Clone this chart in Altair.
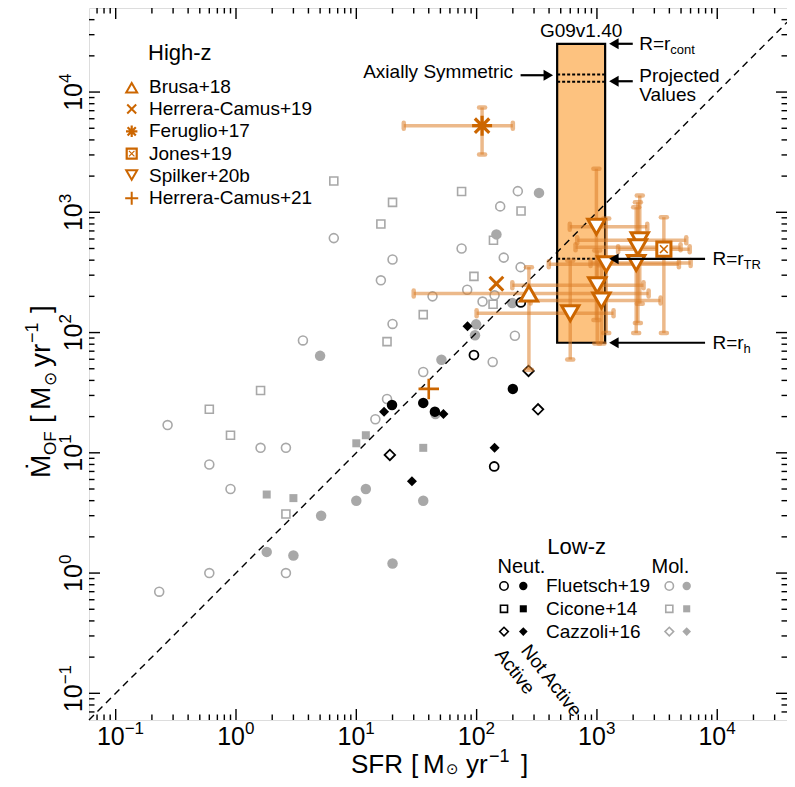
import altair as alt
import pandas as pd

FONT = "Liberation Sans"
SYMFONT = "DejaVu Sans"
W, H = 698, 712
XMIN, XMAX = 0.06, 38000.0
YMIN, YMAX = 0.06, 50000.0
PXDEC_X = W / 5.8017  # pixels per decade (x)
OX, OY = 89, 8        # page position of the plot's top-left corner

GRAY = "#a8a8a8"
ORANGE = "#cc6600"
EBAR = "#dc7f2a"
BOXFILL = "#fdc27f"

# ---------------- Low-z samples (SFR, Mdot_OF) ----------------
flu_mol_act_sfr = [220, 157, 75, 168, 232, 6.5, 20, 16, 83.5, 43, 112, 141, 20, 3.6, 208, 136, 36, 18, 14.4, 0.27, 1.6, 2.6, 0.6, 0.9, 0.6, 2.6, 0.23]
flu_mol_act_mof = [1500, 1120, 500, 420, 350, 610, 405, 272, 227, 200, 181, 204, 118, 86, 94, 57, 47, 28, 19, 17, 11, 11, 8.0, 5.0, 1.0, 1.0, 0.70]
flu_mol_nact_sfr = [330, 146, 198, 99, 97, 51, 5.0, 45.5, 5.1, 10, 12, 36, 1.8, 3.0, 20]
flu_mol_nact_mof = [1450, 655, 176, 117, 95, 59.5, 64, 21, 3.0, 4.0, 5.0, 4.0, 1.5, 1.4, 1.2]
cic_mol_act_sfr = [6.5, 20, 16, 75, 234, 138, 95, 36, 18, 137, 1.6, 0.6, 0.9, 2.6]
cic_mol_act_mof = [1820, 1210, 800, 1490, 1025, 585, 293, 141, 84, 172, 33, 23, 14, 3.1]
cic_mol_nact_sfr = [1.8, 3.0, 10, 12, 36]
cic_mol_nact_mof = [4.5, 4.2, 12, 14, 11]
flu_neu_act_sfr = [233, 95, 140]
flu_neu_act_mof = [178, 65, 7.7]
flu_neu_nact_sfr = [19.8, 36, 45, 200]
flu_neu_nact_mof = [25, 26, 22, 34]
caz_neu_act_sfr = [19, 270, 324]
caz_neu_act_mof = [9.6, 48, 23]
caz_neu_nact_sfr = [17, 53, 29, 141, 84]
caz_neu_nact_mof = [22, 21, 5.8, 11, 113]

# ---------------- High-z samples ----------------
brusa_sfr, brusa_mof = [272], [211]
brusa_xlo, brusa_xhi, brusa_ylo, brusa_yhi = [30], [2690], [49], [350]
hc19_sfr, hc19_mof = [146], [255]
feru_sfr, feru_mof = [111], [5250]
feru_xlo, feru_xhi, feru_ylo, feru_yhi = [24.8], [200], [3020], [7450]
jones_sfr, jones_mof = [3600], [494]
jones_xlo, jones_xhi, jones_ylo, jones_yhi = [1500], [5900], [99], [910]
spk_sfr = [990, 2270, 2190, 1195, 2120, 1006, 1090, 600]
spk_mof = [760, 585, 513, 369, 378, 247, 185, 145]
spk_xlo = [595, 686, 664, 398, 885, 198, 281, 100]
spk_xhi = [2620, 5525, 4955, 4800, 6010, 2440, 3380, 1374]
spk_ylo = [127, 174, 120, 99, 99, 81, 81, 59.7]
spk_yhi = [2300, 1378, 1213, 889, 1103, 482, 362, 398]
hc21_sfr, hc21_mof = [40], [34]

# G09v1.40 box
box_sfr = [467, 1170]
box_mof = [82.3, 25200]
box_dotted_mof = [14000, 12200, 410]

# axis ticks
major_ticks = [0.1, 1, 10, 100, 1000, 10000]
major_exp = ["\u22121", "0", "1", "2", "3", "4"]

XPATH = "M-1,-1L1,1M-1,1L1,-1"
PLUS = "M-1,0L1,0M0,-1L0,1"
AST = "M-1,0L1,0M0,-1L0,1M-0.72,-0.72L0.72,0.72M-0.72,0.72L0.72,-0.72"


def X(f="sfr"):
    return alt.X(f"{f}:Q", scale=alt.Scale(type="log", domain=[XMIN, XMAX], nice=False, zero=False), axis=None)


def Y(f="mof"):
    return alt.Y(f"{f}:Q", scale=alt.Scale(type="log", domain=[YMIN, YMAX], nice=False, zero=False), axis=None)


def pts(sfr, mof, shape, color, size, filled=False, sw=1.6, fill=None):
    df = pd.DataFrame({"sfr": sfr, "mof": mof})
    if fill is not None:
        m = alt.Chart(df).mark_point(shape=shape, filled=True, fill=fill, stroke=color,
                                     size=size, strokeWidth=sw, opacity=1)
    elif filled:
        m = alt.Chart(df).mark_point(shape=shape, filled=True, color=color, size=size,
                                     strokeWidth=0, opacity=1)
    else:
        m = alt.Chart(df).mark_point(shape=shape, filled=False, color=color, size=size,
                                     strokeWidth=sw, opacity=1)
    return m.encode(x=X(), y=Y())


def ebars(sfr, mof, xlo, xhi, ylo, yhi):
    df = pd.DataFrame({"sfr": sfr, "mof": mof, "xlo": xlo, "xhi": xhi, "ylo": ylo, "yhi": yhi})
    b = alt.Chart(df)
    st = dict(color=EBAR, opacity=0.55)
    out = [
        b.mark_rule(strokeWidth=3.5, **st).encode(x=X("xlo"), x2=alt.X2("xhi"), y=Y("mof")),
        b.mark_rule(strokeWidth=3.5, **st).encode(x=X("sfr"), y=Y("ylo"), y2=alt.Y2("yhi")),
    ]
    for fx, fy, ang in [("xlo", "mof", 90), ("xhi", "mof", 90), ("sfr", "ylo", 0), ("sfr", "yhi", 0)]:
        out.append(b.mark_point(shape="stroke", angle=ang, size=36, strokeWidth=4.5,
                                strokeCap="round", **st).encode(x=X(fx), y=Y(fy)))
    return out


def txt(text, x, y, size=19, align="left", baseline="alphabetic", angle=0, dx=0, dy=0, font=FONT):
    return alt.Chart(pd.DataFrame({"t": [text]})).mark_text(
        font=font, fontSize=size, align=align, baseline=baseline, angle=angle, dx=dx, dy=dy,
        color="black").encode(x=alt.value(x), y=alt.value(y), text="t:N")


def dtxt(text, sfr, mof, size=19, align="left", baseline="middle", dx=0, dy=0):
    df = pd.DataFrame({"t": [text], "sfr": [sfr], "mof": [mof]})
    return alt.Chart(df).mark_text(font=FONT, fontSize=size, align=align, baseline=baseline,
                                   dx=dx, dy=dy, color="black").encode(x=X(), y=Y(), text="t:N")


def vpt(x, y, shape, color, size, sw=1.6, filled=False, fill=None):
    c = alt.Chart(pd.DataFrame({"d": [0]}))
    if fill is not None:
        m = c.mark_point(shape=shape, filled=True, fill=fill, stroke=color, size=size, strokeWidth=sw, opacity=1)
    elif filled:
        m = c.mark_point(shape=shape, filled=True, color=color, size=size, strokeWidth=0, opacity=1)
    else:
        m = c.mark_point(shape=shape, filled=False, color=color, size=size, strokeWidth=sw, opacity=1)
    return m.encode(x=alt.value(x), y=alt.value(y))


layers = []

# ---- low-z points ----
layers += [
    pts(flu_mol_act_sfr, flu_mol_act_mof, "circle", GRAY, 80),
    pts(cic_mol_act_sfr, cic_mol_act_mof, "square", GRAY, 64),
    pts(flu_mol_nact_sfr, flu_mol_nact_mof, "circle", GRAY, 110, filled=True),
    pts(cic_mol_nact_sfr, cic_mol_nact_mof, "square", GRAY, 64, filled=True),
    pts(flu_neu_act_sfr, flu_neu_act_mof, "circle", "black", 80, sw=1.8),
    pts(flu_neu_nact_sfr, flu_neu_nact_mof, "circle", "black", 110, filled=True),
    pts(caz_neu_act_sfr, caz_neu_act_mof, "diamond", "black", 110, sw=1.8),
    pts(caz_neu_nact_sfr, caz_neu_nact_mof, "diamond", "black", 100, filled=True),
]

# ---- G09v1.40 box ----
box_df = pd.DataFrame({"x0": [box_sfr[0]], "x1": [box_sfr[1]], "y0": [box_mof[0]], "y1": [box_mof[1]]})
layers.append(alt.Chart(box_df).mark_rect(fill=BOXFILL, stroke="black", strokeWidth=2.2, opacity=1)
              .encode(x=X("x0"), x2=alt.X2("x1"), y=Y("y0"), y2=alt.Y2("y1")))
dot_df = pd.DataFrame({"x0": [box_sfr[0]] * 3, "x1": [box_sfr[1]] * 3, "mof": box_dotted_mof})
layers.append(alt.Chart(dot_df).mark_rule(color="black", strokeWidth=2, strokeDash=[3, 2])
              .encode(x=X("x0"), x2=alt.X2("x1"), y=Y("mof")))

# ---- 1:1 line ----
one_df = pd.DataFrame({"sfr": [XMIN, XMAX], "mof": [XMIN, XMAX]})
layers.append(alt.Chart(one_df).mark_line(color="black", strokeWidth=1.4, strokeDash=[7, 5])
              .encode(x=X(), y=Y()))

# ---- high-z error bars ----
layers += ebars(spk_sfr, spk_mof, spk_xlo, spk_xhi, spk_ylo, spk_yhi)
layers += ebars(brusa_sfr, brusa_mof, brusa_xlo, brusa_xhi, brusa_ylo, brusa_yhi)
layers += ebars(jones_sfr, jones_mof, jones_xlo, jones_xhi, jones_ylo, jones_yhi)
layers += ebars(feru_sfr, feru_mof, feru_xlo, feru_xhi, feru_ylo, feru_yhi)

# ---- high-z markers ----
layers += [
    pts(spk_sfr, spk_mof, "triangle-down", ORANGE, 300, sw=3, fill="white"),
    pts(brusa_sfr, brusa_mof, "triangle-up", ORANGE, 300, sw=3, fill="white"),
    pts(jones_sfr, jones_mof, "square", ORANGE, 200, sw=3, fill="white"),
    pts(jones_sfr, jones_mof, XPATH, ORANGE, 60, sw=1.6),
    pts(hc19_sfr, hc19_mof, XPATH, ORANGE, 190, sw=3),
    pts(feru_sfr, feru_mof, AST, ORANGE, 400, sw=3.2),
    pts(hc21_sfr, hc21_mof, PLUS, ORANGE, 420, sw=2.6),
]

# ---- annotations around the box ----
HEAD = 120
head_off = 10 ** ((3 ** 0.5) * (HEAD ** 0.5) / 4 / PXDEC_X)
arrow_tail = [1985, 1985, 232, 7920, 7920]
arrow_tip = [1263, 1263, 432, 1263, 1263]
arrow_mof = [25200, 12300, 13800, 410, 82.3]
arrow_dir = ["left", "left", "right", "left", "left"]
for tail, tip, yv, d in zip(arrow_tail, arrow_tip, arrow_mof, arrow_dir):
    center = tip * head_off if d == "left" else tip / head_off
    adf = pd.DataFrame({"a": [tail], "b": [center], "mof": [yv]})
    layers.append(alt.Chart(adf).mark_rule(color="black", strokeWidth=2.2)
                  .encode(x=X("a"), x2=alt.X2("b"), y=Y("mof")))
    layers.append(alt.Chart(adf).mark_point(shape=f"triangle-{d}", filled=True, color="black",
                                            size=HEAD, opacity=1).encode(x=X("b"), y=Y("mof")))

box_cx = (box_sfr[0] * box_sfr[1]) ** 0.5
layers += [
    dtxt("G09v1.40", box_cx, box_mof[1], align="center", dy=-13),
    dtxt("R=r", 2250, 25200), dtxt("cont", 2250, 25200, size=13, dx=31, dy=6),
    dtxt("Projected", 2250, 13700), dtxt("Values", 2250, 9500),
    dtxt("Axially Symmetric", 201, 14700, align="right"),
    dtxt("R=r", 9140, 410), dtxt("TR", 9140, 410, size=13, dx=31, dy=6),
    dtxt("R=r", 9140, 82.3), dtxt("h", 9140, 82.3, size=13, dx=31, dy=6),
]

# ---- axis ticks (inward, all four sides) ----
minor_x = [m * 10 ** e for e in range(-2, 5) for m in range(2, 10) if XMIN < m * 10 ** e < XMAX]
minor_y = [m * 10 ** e for e in range(-2, 5) for m in range(2, 10) if YMIN < m * 10 ** e < YMAX]
for vals, L in [(major_ticks, 11), (minor_x, 5.5)]:
    b = alt.Chart(pd.DataFrame({"v": vals})).mark_rule(color="black", strokeWidth=1.4)
    layers.append(b.encode(x=X("v"), y=alt.value(H), y2=alt.value(H - L)))
    layers.append(b.encode(x=X("v"), y=alt.value(0), y2=alt.value(L)))
for vals, L in [(major_ticks, 11), (minor_y, 5.5)]:
    b = alt.Chart(pd.DataFrame({"v": vals})).mark_rule(color="black", strokeWidth=1.4)
    layers.append(b.encode(y=Y("v"), x=alt.value(0), x2=alt.value(L)))
    layers.append(b.encode(y=Y("v"), x=alt.value(W), x2=alt.value(W - L)))

# ---- tick labels 10^n ----
lab_df = pd.DataFrame({"v": major_ticks, "base": ["10"] * len(major_ticks), "exp": major_exp})
lb = alt.Chart(lab_df)
layers += [
    lb.mark_text(font=FONT, fontSize=25, align="right", baseline="alphabetic", dx=9, color="black")
      .encode(x=X("v"), y=alt.value(H + 25), text="base:N"),
    lb.mark_text(font=FONT, fontSize=17, align="left", baseline="alphabetic", dx=9, dy=-11, color="black")
      .encode(x=X("v"), y=alt.value(H + 25), text="exp:N"),
    lb.mark_text(font=FONT, fontSize=25, align="right", baseline="alphabetic", angle=270, dx=9, color="black")
      .encode(y=Y("v"), x=alt.value(-7), text="base:N"),
    lb.mark_text(font=FONT, fontSize=17, align="left", baseline="alphabetic", angle=270, dx=9, dy=-11, color="black")
      .encode(y=Y("v"), x=alt.value(-7), text="exp:N"),
]

# ---- axis titles (rich text pieces: text, page position, baseline shift, size, font) ----
TS = 26
xt_pieces = [("SFR", 351, 0, TS, FONT), ("[", 411, 0, TS, FONT), ("M", 423, 0, TS, FONT),
             ("\u2299", 446, 1, 15, SYMFONT), ("yr", 466, 0, TS, FONT),
             ("\u22121", 489, -11, 18, FONT), ("]", 521, 0, TS, FONT)]
XT_BASE = 773
for t, px, sh, s, f in xt_pieces:
    layers.append(txt(t, px - OX, XT_BASE - OY + sh, size=s, font=f))

yt_pieces = [("\u1E40", 478, 0, 28, FONT), ("OF", 455, 6, 17, FONT), ("[", 423, 0, 28, FONT),
             ("M", 410, 0, 28, FONT), ("\u2299", 386, 6, 17, SYMFONT), ("yr", 367, 0, 28, FONT),
             ("\u22121", 343, -12, 18, FONT), ("]", 313, 0, 28, FONT)]
YT_BASE = 50
for t, py, sh, s, f in yt_pieces:
    layers.append(txt(t, YT_BASE - OX + sh, py - OY, size=s, angle=270, font=f))

# ---- High-z legend ----
hz_labels = ["Brusa+18", "Herrera-Camus+19", "Feruglio+17", "Jones+19", "Spilker+20b", "Herrera-Camus+21"]
layers.append(txt("High-z", 59, 45, size=22, baseline="middle"))
ry = [78.7 + i * 22.3 for i in range(len(hz_labels))]
for lab, yy in zip(hz_labels, ry):
    layers.append(txt(lab, 60, yy, size=19, baseline="middle"))
mx = 42.7
layers += [
    vpt(mx, ry[0] + 1, "triangle-up", ORANGE, 120, sw=2),
    vpt(mx, ry[1], XPATH, ORANGE, 80, sw=2),
    vpt(mx, ry[2], AST, ORANGE, 130, sw=2.2),
    vpt(mx, ry[3], "square", ORANGE, 100, sw=2.2, fill="white"),
    vpt(mx, ry[3], XPATH, ORANGE, 30, sw=1.2),
    vpt(mx, ry[4] - 1, "triangle-down", ORANGE, 120, sw=2),
    vpt(mx, ry[5], PLUS, ORANGE, 170, sw=2),
]

# ---- Low-z legend ----
lz_labels = ["Fluetsch+19", "Cicone+14", "Cazzoli+16"]
lz_shapes = ["circle", "square", "diamond"]
lz_sizes = [70, 50, 75]
layers.append(txt("Low-z", 487.7, 539, size=22, align="center", baseline="middle"))
layers.append(txt("Neut.", 408.5, 559, size=20, baseline="middle"))
layers.append(txt("Mol.", 562.5, 559, size=20, baseline="middle"))
for i, (lab, shp, sz) in enumerate(zip(lz_labels, lz_shapes, lz_sizes)):
    yy = 578 + i * 22.8
    layers.append(txt(lab, 457, yy, size=19, baseline="middle"))
    layers.append(vpt(415, yy, shp, "black", sz, sw=1.6))
    layers.append(vpt(434.3, yy, shp, "black", sz, filled=True))
    layers.append(vpt(580.3, yy, shp, GRAY, sz, sw=1.6))
    layers.append(vpt(597.7, yy, shp, GRAY, sz, filled=True))
layers.append(txt("Active", 410, 643, size=19, baseline="middle", angle=52))
layers.append(txt("Not Active", 436, 639, size=19, baseline="middle", angle=52))

chart = (
    alt.layer(*layers)
    .resolve_scale(x="independent", y="independent")
    .properties(width=W, height=H, autosize=alt.AutoSizeParams(type="none"),
                padding={"left": 81, "top": 0, "right": 0, "bottom": 59})
    .configure_view(stroke="black", strokeWidth=3)
    .configure(font=FONT)
)

chart.save("out.html", embed_options={"renderer": "svg", "actions": False})
